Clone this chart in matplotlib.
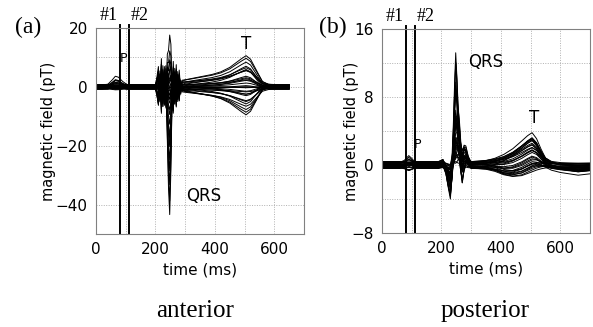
import numpy as np
import matplotlib
matplotlib.use("Agg")
import matplotlib.pyplot as plt
from matplotlib.ticker import MultipleLocator, FuncFormatter

# ---------------- anterior (a) ----------------
# time knots (ms) shared by all components of panel (a)
t_a = [0, 20, 40, 55, 65, 75, 90, 105, 120, 150, 180,
       200, 205, 210, 215, 220, 225, 230, 235, 240, 244,
       248, 252, 256, 260, 265, 270, 275, 280, 285, 290,
       300, 330, 360, 390, 420, 450, 470, 490, 505, 520, 540, 560, 580, 600, 620, 650]
# normalised wave components
p_wave_a = [0, 0, 0.1, 0.6, 1.0, 0.9, 0.4, 0.05, 0, 0, 0,
            0, 0, 0, 0, 0, 0, 0, 0, 0, 0,
            0, 0, 0, 0, 0, 0, 0, 0, 0, 0,
            0, 0, 0, 0, 0, 0, 0, 0, 0, 0, 0, 0, 0, 0, 0, 0]
burst_a = [0, 0, 0, 0, 0, 0, 0, 0, 0, 0, 0,
           0, 0.3, 0.7, -0.6, 1.0, -0.8, 0.7, -0.9, 0.6, -0.3,
           0.0, 0.5, -0.7, 0.8, -0.7, 0.75, -0.6, 0.5, -0.3, 0.05,
           0, 0, 0, 0, 0, 0, 0, 0, 0, 0, 0, 0, 0, 0, 0, 0]
spike_a = [0, 0, 0, 0, 0, 0, 0, 0, 0, 0, 0,
           0, 0, 0, 0, 0, 0, 0, 0.05, 0.3, 0.85,
           1.0, 0.55, 0.2, 0.05, 0, 0, 0, 0, 0, 0,
           0, 0, 0, 0, 0, 0, 0, 0, 0, 0, 0, 0, 0, 0, 0, 0]
t_wave_a = [0, 0, 0, 0, 0, 0, 0, 0, 0, 0, 0,
            0, 0, 0, 0, 0, 0, 0, 0, 0, 0,
            0, 0, 0, 0, 0, 0.02, 0.04, 0.06, 0.08, 0.12,
            0.18, 0.24, 0.3, 0.36, 0.45, 0.6, 0.75, 0.9, 1.0, 0.88, 0.5, 0.12, 0.02, 0, 0, 0]
# per-channel gains (pT)
p_gain_a = [3.0, -0.4, 2.2, 0.5, -1.0, 1.4, 0.2, 2.6, -0.6, 0.8, 1.9, -0.2, 0.0, 1.2,
            -0.8, 0.3, 1.6, -1.2, 0.6, 0.1, -0.3, 1.0, 0.4, -0.5, 0.7, -0.1, 0.9,
            -0.7, 0.2, 0.0]
burst_gain_a = [9, -8, 7.5, -7, 6.5, -6, 5.5, -5, 4.5, -4, 4, -3.5, 3, -3, 2.5,
                -2.5, 2, -2, 1.5, -1.5, 1, -1, 0.8, -0.8, 0.5, -0.5, 6, -6.5, 8, -9]
spike_gain_a = [17, -43, 12, -38, 8, -33, 5, -28, 3, -24, 2, -20, 1, -16, 0, -13,
                -1, -10, -2, -8, -3, -6, -4, -5, -2, -3, 10, -1, 6, -18]
t_gain_a = [10, -4.3, 8.2, -1.0, 6.0, -7.5, 4.7, 0.5, 3.0, -5.8, 2.0, -2.2, 9.0,
            1.0, -8.6, 5.3, 0.0, -3.6, 7.4, -0.5, 3.5, -10, 1.5, -6.6, 4.1, -1.6,
            6.7, -2.9, 2.5, -5.0]
offset_a = [0.6, -0.4, 0.2, -0.7, 0.5, -0.2, 0.8, -0.5, 0.1, -0.8, 0.4, -0.3,
            0.7, -0.6, 0.0, 0.3, -0.1, 0.6, -0.4, 0.2, -0.7, 0.5, -0.2, 0.8,
            -0.5, 0.1, -0.8, 0.4, -0.3, 0.0]

# ---------------- posterior (b) ----------------
t_b = [0, 20, 40, 60, 75, 90, 100, 110, 130, 160, 190,
       205, 215, 222, 230, 236, 240, 244, 248, 252, 256,
       260, 265, 270, 276, 282, 290, 300, 320, 350, 380,
       410, 440, 470, 490, 505, 520, 535, 550, 570, 600, 630, 660, 680, 700]
p_wave_b = [0, 0, 0, 0, 0.3, 1.0, 0.6, 0.1, 0, 0, 0,
            0, 0, 0, 0, 0, 0, 0, 0, 0, 0,
            0, 0, 0, 0, 0, 0, 0, 0, 0, 0,
            0, 0, 0, 0, 0, 0, 0, 0, 0, 0, 0, 0, 0, 0]
spike_b = [0, 0, 0, 0, 0, 0, 0, 0, 0, 0, 0,
           0, 0, 0, 0, 0.1, 0.35, 0.7, 1.0, 0.75, 0.4,
           0.15, 0.03, 0, 0, 0, 0, 0, 0, 0, 0,
           0, 0, 0, 0, 0, 0, 0, 0, 0, 0, 0, 0, 0, 0]
dip1_b = [0, 0, 0, 0, 0, 0, 0, 0, 0, 0, 0,
          0.1, -0.2, -0.6, -1.0, -0.5, 0, 0, 0, 0, 0,
          0, 0, 0, 0, 0, 0, 0, 0, 0, 0,
          0, 0, 0, 0, 0, 0, 0, 0, 0, 0, 0, 0, 0, 0]
dip2_b = [0, 0, 0, 0, 0, 0, 0, 0, 0, 0, 0,
          0, 0, 0, 0, 0, 0, 0, 0, 0, 0,
          0.1, -0.5, -1.0, -0.4, 0, 0, 0, 0, 0, 0,
          0, 0, 0, 0, 0, 0, 0, 0, 0, 0, 0, 0, 0, 0]
hump_b = [0, 0, 0, 0, 0, 0, 0, 0, 0, 0, 0,
          0, 0, 0, 0, 0, 0.1, 0.3, 0.5, 0.7, 0.9,
          1.0, 0.8, 0.6, 0.7, 0.5, 0.2, 0, 0, 0, 0,
          0, 0, 0, 0, 0, 0, 0, 0, 0, 0, 0, 0, 0, 0]
t_up_b = [0, 0, 0, 0, 0, 0, 0, 0, 0, 0, 0,
          0, 0, 0, 0, 0, 0, 0, 0, 0, 0,
          0, 0, 0, 0, 0, 0, 0, 0.02, 0.06, 0.14,
          0.27, 0.46, 0.72, 0.9, 1.0, 0.8, 0.45, 0.15, 0.03, 0, 0, 0, 0, 0]
t_down_b = [0, 0, 0, 0, 0, 0, 0, 0, 0, 0, 0,
            0, 0, 0, 0, 0, 0, 0, 0, 0, 0,
            0, 0, 0, 0, 0, 0, 0, 0.05, 0.15, 0.4,
            0.8, 1.0, 0.9, 0.65, 0.45, 0.25, 0.1, 0, 0, 0, 0, 0, 0, 0]
drift_b = [0, 0, 0, 0, 0, 0, 0, 0, 0, 0, 0,
           0, 0, 0, 0, 0, 0, 0, 0, 0, 0,
           0, 0, 0, 0, 0, 0, 0, 0, 0, 0,
           0, 0, 0, 0, 0, 0, 0, 0, 0.3, 0.6, 0.8, 1.0, 0.9, 0.8]
p_gain_b = [0.8, 0.2, -0.3, 0.6, 0.0, 0.4, -0.1, 0.5, 0.1, -0.2, 0.7, 0.3, 0.0,
            -0.4, 0.2, 0.5, 0.1, -0.1, 0.3, 0.0, 0.6, -0.2, 0.4, 0.1, 0.0, 0.2,
            -0.3, 0.5, 0.1, 0.3]
spike_gain_b = [12.4, 10.5, 9, 7.8, 6.7, 5.8, 5, 4.3, 3.7, 3.2, 2.7, 2.3, 2, 1.7,
                1.4, 1.1, 0.9, 0.7, 0.5, 0.3, 0.1, 0, -0.2, -0.4, 11.5, 8.5, 6,
                4, 2.5, 1]
dip1_gain_b = [0.5, 3.8, 1.0, 3.2, 0.2, 2.6, 1.5, 0.0, 3.5, 0.8, 2.0, 0.3, 2.9,
               1.2, 0.6, 2.3, 0.1, 1.8, 0.4, 3.0, 0.9, 1.4, 0.0, 2.5, 0.7, 1.1,
               3.3, 0.2, 1.6, 0.5]
dip2_gain_b = [0.2, 1.0, 2.5, 0.4, 1.8, 0.0, 2.2, 0.7, 1.4, 0.1, 2.0, 0.9, 0.3,
               1.6, 0.5, 1.2, 2.4, 0.0, 1.0, 0.6, 1.9, 0.2, 0.8, 1.5, 0.3, 2.1,
               0.4, 1.1, 0.0, 1.3]
hump_gain_b = [1.0, 3.5, 0.5, 2.5, 4.0, 1.5, 0.0, 3.0, 2.0, 0.8, 3.8, 1.2, 2.8,
               0.3, 1.8, 3.2, 0.6, 2.2, 1.4, 0.0, 2.6, 1.0, 3.4, 0.4, 1.6, 2.4,
               0.2, 3.0, 1.1, 2.0]
t_up_gain_b = [3.5, 0.5, 3.2, 1.0, 2.9, 0.2, 2.6, 1.5, 2.3, 0.0, 2.0, 1.2, 1.8,
               0.7, 3.0, 0.3, 2.5, 1.6, 2.1, 0.9, 3.3, 0.4, 1.4, 2.8, 0.6, 1.9,
               1.1, 2.4, 0.1, 1.7]
t_down_gain_b = [0.0, -1.2, -0.2, -0.9, -0.1, -1.1, -0.3, -0.6, 0.0, -1.0, -0.4,
                 -0.7, -0.2, -0.8, 0.0, -1.2, -0.1, -0.5, -0.3, -0.9, 0.0, -1.1,
                 -0.6, -0.2, -1.0, -0.4, -0.8, -0.1, -1.2, -0.5]
drift_gain_b = [-0.2, -0.6, 0.1, -0.8, -0.4, 0.0, -0.5, -0.3, -0.7, 0.2, -0.1,
                -0.6, -0.4, -0.2, -0.8, 0.0, -0.5, -0.3, -0.1, -0.7, 0.1, -0.4,
                -0.6, -0.2, 0.0, -0.5, -0.3, -0.8, -0.1, -0.4]
offset_b = [0.3, -0.2, 0.1, -0.4, 0.25, -0.1, 0.4, -0.3, 0.05, -0.35, 0.2,
            -0.15, 0.35, -0.25, 0.0, 0.15, -0.05, 0.3, -0.2, 0.1, -0.4, 0.25,
            -0.1, 0.4, -0.3, 0.05, -0.35, 0.2, -0.15, 0.0]

marker_times = [80, 110]   # #1, #2 (ms)


def traces(components, gains, offsets):
    comp = np.array(components)          # (n_comp, n_t)
    g = np.array(gains).T                # (n_ch, n_comp)
    return g @ comp + np.array(offsets)[:, None]


data_a = traces([p_wave_a, burst_a, spike_a, t_wave_a],
                [p_gain_a, burst_gain_a, spike_gain_a, t_gain_a], offset_a)
data_b = traces([p_wave_b, spike_b, dip1_b, dip2_b, hump_b, t_up_b, t_down_b, drift_b],
                [p_gain_b, spike_gain_b, dip1_gain_b, dip2_gain_b, hump_gain_b,
                 t_up_gain_b, t_down_gain_b, drift_gain_b], offset_b)

sans = "DejaVu Sans"
serif = "Liberation Serif"

fig = plt.figure(figsize=(5.93, 3.27), dpi=100)
ax_a = fig.add_axes([0.1619, 0.2844, 0.3508, 0.630])
ax_b = fig.add_axes([0.6442, 0.2875, 0.3508, 0.6239])

panels = [
    (ax_a, t_a, data_a, (-50, 20), 10, 20, -0.19,
     [(94, 9.5, "P", 9), (362, -37, "QRS", 12), (506, 14.5, "T", 12)]),
    (ax_b, t_b, data_b, (-8, 16), 4, 8, -0.11,
     [(119, 2.4, "P", 9), (349, 12.1, "QRS", 12), (512, 5.5, "T", 12)]),
]

for ax, t, data, ylim, ygrid, ylab_step, ylab_x, notes in panels:
    for row in data:
        ax.plot(t, row, color="k", lw=0.7)
    ax.set_xlim(0, 700)
    ax.set_ylim(*ylim)
    ax.xaxis.set_major_locator(MultipleLocator(100))
    ax.yaxis.set_major_locator(MultipleLocator(ygrid))
    ax.xaxis.set_major_formatter(FuncFormatter(
        lambda v, p: "%d" % v if round(v) % 200 == 0 else ""))
    ax.yaxis.set_major_formatter(FuncFormatter(
        lambda v, p, s=ylab_step: ("%d" % v).replace("-", "\u2212")
        if round(v) % s == 0 else ""))
    ax.tick_params(length=0, labelsize=11, pad=6)
    ax.grid(True, color="#b0b0b0", ls=(0, (1, 1.5)), lw=0.7)
    for sp in ax.spines.values():
        sp.set_color("#808080")
        sp.set_linewidth(0.8)
    ax.set_xlabel("time (ms)", fontsize=11, fontfamily=sans, labelpad=4)
    ax.set_ylabel("magnetic field (pT)", fontsize=10.5, fontfamily=sans)
    ax.yaxis.set_label_coords(ylab_x, 0.5)
    for tm in marker_times:
        ax.plot([tm, tm], [0, 1.015], color="k", lw=1.4,
                transform=ax.get_xaxis_transform(), clip_on=False)
    ax.text(marker_times[0] - 8, 1.02, "#1", transform=ax.get_xaxis_transform(),
            ha="right", va="bottom", fontsize=13, fontfamily=serif)
    ax.text(marker_times[1] + 6, 1.02, "#2", transform=ax.get_xaxis_transform(),
            ha="left", va="bottom", fontsize=13, fontfamily=serif)
    for x, y, s, fs in notes:
        ax.text(x, y, s, ha="center", va="center", fontsize=fs, fontfamily=sans)

fig.text(0.047, 0.917, "(a)", ha="center", va="center", fontsize=17, fontfamily=serif)
fig.text(0.561, 0.917, "(b)", ha="center", va="center", fontsize=17, fontfamily=serif)
fig.text(0.329, 0.05, "anterior", ha="center", va="center", fontsize=18, fontfamily=serif)
fig.text(0.818, 0.05, "posterior", ha="center", va="center", fontsize=18, fontfamily=serif)

fig.savefig("out.png", dpi=100)
